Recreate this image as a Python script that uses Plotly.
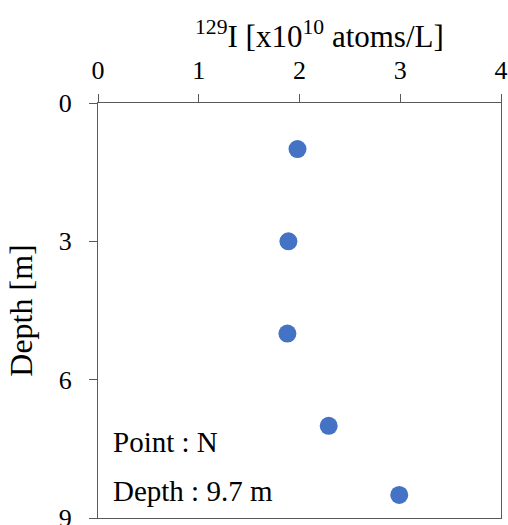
import plotly.graph_objects as go

conc = [1.98, 1.89, 1.88, 2.29, 2.99]
depth = [1.0, 3.0, 5.0, 7.0, 8.5]
x_ticks = [0, 1, 2, 3, 4]
y_ticks = [0, 3, 6, 9]

fig = go.Figure()
fig.add_trace(go.Scatter(x=conc, y=depth, mode="markers",
                         marker=dict(size=18, color="#4472C4"), showlegend=False))

font = "Liberation Serif, Times New Roman, serif"
fig.update_layout(
    width=508, height=525,
    margin=dict(l=98, r=7, t=103, b=7, autoexpand=False),
    plot_bgcolor="white", paper_bgcolor="white",
    font=dict(family=font, size=26, color="black"),
    xaxis=dict(side="top", range=[0, 4], tickvals=x_ticks, ticks="outside", ticklen=8,
               tickcolor="#595959", showline=True, linecolor="#595959", linewidth=1.3,
               mirror=True, showgrid=False, zeroline=False, ticklabelstandoff=4,
               automargin=False),
    yaxis=dict(range=[9, 0], tickvals=y_ticks, ticks="outside", ticklen=8,
               tickcolor="#595959", showline=True, linecolor="#595959", linewidth=1.3,
               mirror=True, showgrid=False, zeroline=False, ticklabelstandoff=12,
               automargin=False, ticklabeloverflow="allow",
               title=dict(text="Depth [m]", standoff=16, font=dict(size=32))),
    annotations=[
        dict(text="<sup>129</sup>I [x10<sup>10</sup> atoms/L]", x=2.2, y=1, xref="x",
             yref="paper", yanchor="bottom", xanchor="center", yshift=47,
             showarrow=False, font=dict(size=31)),
        dict(text="Point : N", x=0.13, y=7.35, xref="x", yref="y", showarrow=False,
             xanchor="left", yanchor="middle", font=dict(size=29)),
        dict(text="Depth : 9.7 m", x=0.13, y=8.42, xref="x", yref="y", showarrow=False,
             xanchor="left", yanchor="middle", font=dict(size=29)),
    ],
)
fig.write_html("out.html", config={"displayModeBar": False},
               post_script="document.body.style.margin='0';document.body.style.overflow='hidden';")
